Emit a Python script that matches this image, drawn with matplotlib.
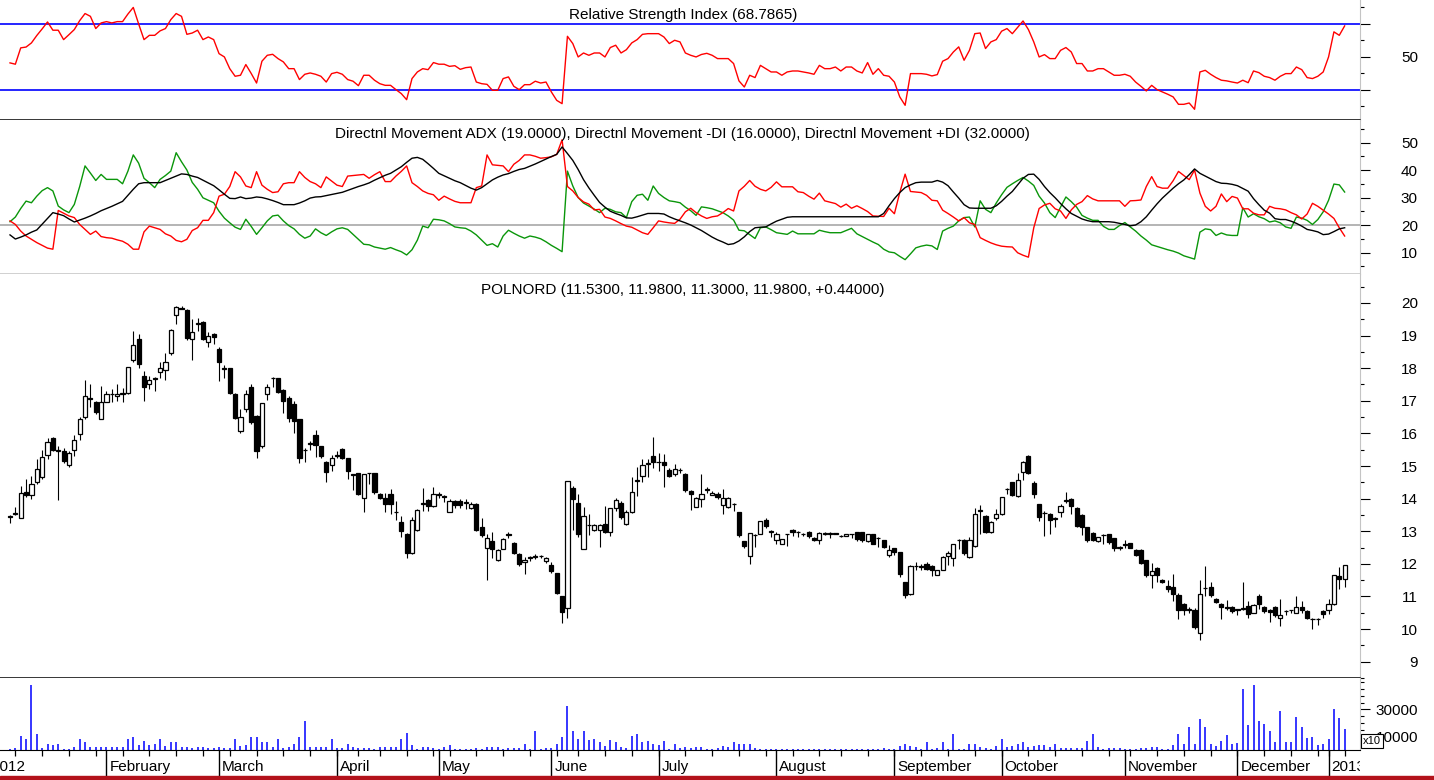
import matplotlib
matplotlib.use("Agg")
import matplotlib.pyplot as plt
from matplotlib.patches import Rectangle
import numpy as np
import pandas as pd

plt.rcParams['font.family'] = ['Liberation Sans', 'DejaVu Sans']

# trading days on the chart (Warsaw exchange, 5 Jan 2012 - 7 Jan 2013)
holidays = ['2012-01-06', '2012-04-06', '2012-04-09', '2012-05-01', '2012-05-03',
            '2012-06-07', '2012-08-15', '2012-11-01', '2012-12-24', '2012-12-25',
            '2012-12-26', '2012-12-31', '2013-01-01']
dates = pd.bdate_range('2012-01-05', '2013-01-07', freq='C', holidays=holidays)

# POLNORD daily OHLC
opens = [
    13.48, 13.52, 13.42, 14.20, 14.10, 14.50, 14.65, 15.35, 15.85, 15.50,
    15.45, 15.02, 15.48, 15.98, 16.50, 17.10, 16.95, 16.45, 16.97, 17.20,
    17.15, 17.22, 17.25, 18.25, 18.90, 17.77, 17.50, 17.70, 17.88, 17.95,
    18.45, 19.62, 19.85, 19.77, 18.90, 19.35, 19.40, 18.80, 19.05, 18.60,
    18.00, 18.00, 17.22, 16.08, 16.76, 17.42, 16.53, 15.60, 17.22, 17.70,
    17.70, 17.32, 17.10, 16.90, 16.44, 15.48, 15.70, 15.95, 15.60, 15.12,
    15.02, 15.35, 15.52, 15.25, 14.75, 14.78, 14.02, 14.78, 14.78, 14.15,
    14.03, 14.13, 13.58, 13.28, 12.93, 12.32, 13.03, 13.85, 13.95, 13.78,
    14.12, 14.07, 13.60, 13.93, 13.92, 13.88, 13.70, 13.85, 13.13, 12.48,
    12.70, 12.12, 12.47, 12.90, 12.65, 12.30, 12.05, 12.20, 12.22, 12.25,
    12.10, 11.98, 11.72, 11.00, 10.65, 14.33, 13.88, 12.45, 13.18, 13.03,
    13.03, 13.22, 12.98, 13.70, 13.88, 13.23, 13.58, 14.55, 14.70, 15.07,
    15.30, 15.13, 15.13, 14.87, 14.75, 14.87, 14.75, 14.23, 13.75, 14.00,
    14.28, 14.12, 14.15, 13.80, 13.73, 13.83, 13.60, 12.70, 12.25, 12.88,
    12.92, 13.35, 12.98, 12.72, 12.62, 12.90, 13.05, 12.97, 12.92, 12.98,
    12.80, 12.73, 12.93, 12.95, 12.93, 12.85, 12.85, 12.92, 12.97, 12.97,
    12.70, 12.90, 12.78, 12.72, 12.27, 12.48, 12.35, 11.43, 11.07, 11.92,
    11.92, 12.00, 11.93, 11.66, 11.82, 12.25, 12.17, 12.72, 12.72, 12.20,
    12.55, 13.63, 13.48, 12.98, 13.41, 13.53, 14.28, 14.50, 14.07, 14.82,
    15.32, 14.47, 13.83, 13.55, 13.53, 13.38, 13.58, 13.94, 14.00, 13.72,
    13.50, 13.12, 12.95, 12.70, 12.88, 12.90, 12.78, 12.50, 12.60, 12.63,
    12.43, 12.42, 12.12, 11.65, 11.88, 11.52, 11.33, 11.30, 11.06, 10.77,
    10.60, 10.60, 9.88, 11.27, 11.28, 10.91, 10.78, 10.67, 10.68, 10.60,
    10.62, 10.72, 10.50, 11.02, 10.68, 10.60, 10.68, 10.33, 10.55, 10.58,
    10.50, 10.68, 10.56, 10.31, 10.31, 10.56, 10.58, 10.77, 11.62, 11.53,
]
highs = [
    13.50, 13.75, 14.40, 14.60, 14.70, 15.20, 15.50, 15.85, 15.90, 15.60,
    15.55, 15.45, 15.95, 16.50, 17.65, 17.50, 17.00, 17.45, 17.30, 17.35,
    17.50, 17.40, 18.05, 19.15, 19.05, 17.90, 17.75, 17.72, 18.20, 18.45,
    19.20, 19.90, 19.92, 19.80, 19.50, 19.55, 19.45, 19.10, 19.08, 18.65,
    18.10, 18.00, 17.25, 16.75, 17.33, 17.50, 16.55, 16.93, 17.50, 17.72,
    17.70, 17.35, 17.15, 17.00, 16.45, 15.55, 15.76, 16.10, 15.62, 15.15,
    15.35, 15.45, 15.55, 15.25, 14.75, 14.78, 14.76, 14.80, 14.78, 14.16,
    14.18, 14.30, 13.93, 13.48, 12.95, 13.43, 13.67, 14.33, 14.00, 14.35,
    14.20, 14.10, 14.00, 13.97, 13.98, 14.00, 13.90, 13.88, 13.40, 12.93,
    12.98, 12.45, 12.78, 12.98, 12.68, 12.32, 12.20, 12.25, 12.30, 12.28,
    12.22, 12.05, 11.72, 11.02, 14.55, 14.40, 14.13, 13.75, 13.52, 13.22,
    13.22, 13.78, 13.72, 14.03, 13.92, 13.65, 14.65, 14.98, 15.22, 15.20,
    15.90, 15.40, 15.38, 14.95, 15.05, 14.95, 14.78, 14.25, 14.06, 14.75,
    14.37, 14.22, 14.20, 14.28, 14.05, 13.88, 13.60, 12.70, 12.95, 12.90,
    13.32, 13.40, 13.05, 12.98, 12.75, 12.92, 13.07, 13.00, 12.95, 13.00,
    12.82, 12.98, 12.98, 12.97, 12.95, 12.87, 12.92, 12.92, 12.98, 12.98,
    12.92, 12.92, 12.82, 12.74, 12.57, 12.50, 12.37, 11.45, 11.95, 12.05,
    12.00, 12.05, 11.95, 11.80, 12.25, 12.38, 12.62, 12.75, 12.75, 12.83,
    13.72, 13.80, 13.50, 13.30, 13.68, 14.05, 14.32, 14.52, 14.80, 15.15,
    15.35, 14.53, 13.85, 13.63, 13.55, 13.43, 13.85, 14.20, 14.03, 13.73,
    13.52, 13.13, 12.97, 12.83, 12.90, 12.92, 12.80, 12.55, 12.72, 12.65,
    12.45, 12.44, 12.13, 12.03, 11.90, 11.55, 11.50, 11.70, 11.10, 10.80,
    10.67, 10.65, 11.50, 11.92, 11.45, 10.95, 10.80, 10.90, 10.72, 10.63,
    11.45, 10.85, 10.78, 11.07, 10.72, 10.63, 10.70, 10.93, 10.60, 10.60,
    11.02, 10.86, 10.58, 10.33, 10.33, 10.58, 10.92, 11.67, 11.90, 11.98,
]
lows = [
    13.25, 13.50, 13.40, 14.05, 14.00, 14.45, 14.60, 15.20, 15.45, 13.95,
    15.10, 14.98, 15.30, 15.80, 16.45, 16.80, 16.60, 16.45, 16.95, 16.95,
    17.00, 16.95, 17.20, 18.20, 18.00, 17.00, 17.35, 17.30, 17.70, 17.65,
    18.40, 19.35, 19.80, 18.85, 18.25, 19.15, 18.85, 18.65, 18.75, 17.60,
    17.70, 17.20, 16.45, 16.00, 16.66, 16.30, 15.25, 15.55, 17.02, 17.42,
    17.25, 16.63, 16.36, 16.00, 15.10, 15.12, 15.50, 15.27, 15.25, 14.50,
    14.85, 15.25, 15.20, 14.60, 14.25, 14.12, 13.60, 14.45, 14.15, 13.98,
    13.58, 13.53, 13.33, 12.83, 12.17, 12.30, 13.00, 13.63, 13.63, 13.73,
    14.03, 13.90, 13.58, 13.70, 13.72, 13.68, 13.68, 13.00, 12.83, 11.52,
    12.17, 12.10, 12.45, 12.78, 12.30, 11.92, 11.70, 12.10, 12.15, 12.18,
    12.03, 11.72, 11.08, 10.20, 10.35, 13.03, 12.83, 12.45, 12.88, 13.00,
    12.52, 12.95, 12.85, 13.63, 13.38, 13.20, 13.55, 14.08, 14.50, 14.65,
    14.95, 14.85, 14.37, 14.65, 14.70, 14.80, 14.20, 13.65, 13.73, 13.73,
    14.18, 14.10, 14.00, 13.53, 13.70, 13.63, 12.82, 12.50, 12.00, 12.52,
    12.90, 13.10, 12.83, 12.62, 12.60, 12.55, 12.85, 12.82, 12.85, 12.80,
    12.70, 12.62, 12.88, 12.78, 12.90, 12.83, 12.85, 12.78, 12.70, 12.68,
    12.68, 12.60, 12.53, 12.48, 12.20, 12.28, 11.60, 10.95, 11.05, 11.82,
    11.80, 11.80, 11.62, 11.65, 11.80, 11.97, 11.92, 12.47, 12.28, 12.18,
    12.52, 12.93, 12.95, 12.96, 13.33, 13.50, 14.15, 14.08, 14.05, 14.58,
    14.75, 14.02, 13.30, 12.85, 12.90, 13.13, 13.45, 13.88, 13.53, 13.12,
    12.87, 12.68, 12.70, 12.68, 12.62, 12.62, 12.40, 12.43, 12.50, 12.48,
    12.25, 12.00, 11.60, 11.27, 11.43, 11.42, 11.15, 10.85, 10.30, 10.42,
    10.50, 10.00, 9.68, 11.00, 10.98, 10.80, 10.30, 10.58, 10.50, 10.43,
    10.58, 10.35, 10.48, 10.62, 10.50, 10.22, 10.38, 10.10, 10.42, 10.50,
    10.48, 10.50, 10.30, 10.00, 10.12, 10.35, 10.45, 10.75, 11.22, 11.30,
]
closes = [
    13.45, 13.55, 14.16, 14.10, 14.45, 14.90, 15.27, 15.73, 15.48, 15.45,
    15.15, 15.40, 15.80, 16.45, 17.15, 17.05, 16.65, 16.97, 17.20, 17.22,
    17.22, 17.25, 18.03, 18.70, 18.13, 17.42, 17.65, 17.68, 18.00, 18.20,
    19.16, 19.87, 19.82, 18.94, 19.10, 19.38, 18.90, 19.00, 18.95, 18.18,
    17.98, 17.25, 16.47, 16.50, 17.22, 16.36, 15.45, 16.93, 17.42, 17.70,
    17.27, 17.00, 16.46, 16.38, 15.25, 15.50, 15.68, 15.65, 15.30, 14.82,
    15.25, 15.32, 15.25, 14.85, 14.73, 14.15, 14.74, 14.78, 14.20, 14.03,
    13.85, 13.83, 13.58, 13.00, 12.34, 13.33, 13.65, 13.87, 13.78, 14.13,
    14.15, 14.05, 13.93, 13.80, 13.80, 13.90, 13.85, 13.03, 12.88, 12.78,
    12.45, 12.42, 12.75, 12.88, 12.32, 12.00, 12.12, 12.18, 12.25, 12.24,
    12.17, 11.77, 11.10, 10.52, 14.55, 13.98, 12.90, 13.48, 13.20, 13.18,
    13.20, 12.98, 13.70, 13.95, 13.43, 13.58, 14.20, 14.55, 15.02, 15.08,
    15.13, 15.12, 15.03, 14.70, 14.90, 14.88, 14.27, 14.14, 14.03, 14.15,
    14.25, 14.18, 14.05, 14.03, 14.03, 13.82, 12.87, 12.55, 12.95, 12.88,
    13.30, 13.15, 12.98, 12.90, 12.75, 12.90, 12.98, 12.98, 12.90, 12.85,
    12.73, 12.95, 12.93, 12.93, 12.92, 12.84, 12.90, 12.90, 12.77, 12.73,
    12.90, 12.62, 12.78, 12.52, 12.43, 12.35, 11.68, 11.03, 11.92, 11.93,
    11.90, 11.85, 11.82, 11.80, 12.22, 12.32, 12.62, 12.72, 12.32, 12.72,
    13.53, 13.63, 12.98, 13.28, 13.53, 14.04, 14.28, 14.10, 14.58, 15.12,
    14.80, 14.14, 13.43, 13.55, 13.35, 13.38, 13.78, 13.94, 13.78, 13.15,
    13.12, 12.72, 12.72, 12.82, 12.88, 12.66, 12.50, 12.50, 12.58, 12.50,
    12.28, 12.02, 11.67, 11.78, 11.65, 11.45, 11.23, 11.08, 10.60, 10.60,
    10.60, 10.06, 11.08, 11.26, 11.03, 10.84, 10.68, 10.66, 10.56, 10.59,
    10.62, 10.46, 10.75, 10.77, 10.56, 10.53, 10.42, 10.43, 10.55, 10.57,
    10.68, 10.58, 10.33, 10.30, 10.30, 10.45, 10.77, 11.67, 11.54, 11.98,
]
# volume as shown on the axis (x10)
volume = [
    1000, 1700, 10700, 7800, 48000, 11500, 1700, 4600, 3700, 4600,
    1000, 1000, 2200, 7800, 5900, 2400, 2400, 2400, 2200, 2000,
    2000, 2000, 7800, 9500, 3700, 6600, 3700, 4100, 8500, 2900,
    5900, 5900, 2400, 2400, 1500, 2400, 2000, 1700, 1500, 2400,
    1700, 1700, 7800, 2900, 3700, 9500, 9500, 5900, 5900, 2400,
    8500, 1700, 2400, 4600, 9500, 21700, 2400, 2400, 2400, 2400,
    8500, 1700, 1700, 4600, 2400, 1700, 1700, 1500, 1000, 2200,
    2000, 2000, 2000, 7800, 12700, 3400, 1000, 2400, 2000, 1500,
    1000, 2400, 3400, 1000, 1000, 1000, 1000, 1700, 1000, 2400,
    2400, 2000, 1000, 1500, 1500, 1700, 4600, 1000, 13900, 1000,
    1700, 1700, 4600, 9500, 32700, 13900, 7800, 13900, 7300, 7800,
    5900, 2900, 7100, 5900, 2400, 1700, 10700, 11500, 5900, 6600,
    4600, 3400, 6600, 500, 4600, 1700, 2200, 1700, 2200, 2400,
    500, 500, 1700, 2900, 2200, 5900, 4600, 4600, 4600, 1700,
    1000, 1000, 1000, 1000, 1000, 1000, 1000, 1000, 1000, 1000,
    1000, 1000, 1000, 1000, 1000, 1000, 1000, 1000, 1000, 500,
    1000, 1000, 1000, 1700, 1000, 1000, 2900, 4600, 2900, 2200,
    1000, 5900, 1000, 1700, 5900, 1000, 11500, 1000, 1000, 4600,
    4600, 2200, 1700, 1000, 2900, 7800, 2200, 2900, 4600, 5900,
    2200, 2900, 3400, 3700, 2200, 4600, 1700, 1700, 1700, 1700,
    1700, 6600, 11500, 2200, 1000, 1700, 1700, 1700, 1000, 1000,
    1000, 1700, 1700, 2200, 2200, 1000, 1000, 3400, 11500, 4600,
    17300, 4600, 23200, 17300, 4400, 3200, 6300, 11200, 4400, 5100,
    45400, 18500, 48500, 21700, 19300, 14400, 5600, 28800, 5600, 5600,
    24600, 17300, 8800, 9500, 3400, 4400, 8300, 30200, 23400, 15400,
]
rsi = [
    46.4, 45.6, 55.5, 56.0, 58.5, 63.0, 67.0, 71.2, 66.2, 66.2,
    60.5, 63.5, 66.6, 72.0, 76.3, 74.6, 67.2, 70.6, 71.4, 70.6,
    71.4, 71.4, 76.0, 80.0, 70.0, 60.5, 63.1, 63.1, 65.8, 67.2,
    72.6, 76.3, 74.6, 63.7, 64.5, 66.2, 60.5, 62.1, 60.5, 52.0,
    50.0, 42.9, 38.3, 38.9, 45.4, 40.0, 34.2, 47.4, 51.0, 51.6,
    49.0, 47.0, 42.9, 42.9, 36.3, 39.5, 40.3, 39.5, 38.3, 34.8,
    39.9, 40.7, 39.5, 36.3, 35.3, 32.6, 38.9, 38.9, 35.9, 33.8,
    32.8, 32.8, 30.2, 27.8, 24.1, 36.9, 40.9, 42.9, 42.3, 46.6,
    45.6, 45.6, 44.3, 44.7, 42.5, 43.5, 43.9, 34.8, 33.8, 33.4,
    29.8, 29.8, 36.9, 37.9, 32.2, 30.2, 33.2, 33.2, 35.3, 34.2,
    34.8, 28.8, 23.7, 21.7, 62.5, 58.1, 50.0, 52.4, 51.0, 52.4,
    52.4, 50.0, 55.7, 57.1, 52.4, 54.4, 58.5, 60.5, 63.7, 64.1,
    64.1, 64.1, 62.1, 58.1, 60.1, 59.1, 52.4, 51.0, 50.0, 51.5,
    52.2, 51.0, 49.0, 49.0, 49.0, 46.0, 35.5, 31.8, 38.9, 37.5,
    44.9, 42.9, 40.9, 40.9, 38.9, 40.9, 41.5, 41.5, 40.9, 40.3,
    39.5, 44.9, 42.9, 42.9, 43.9, 41.5, 43.9, 43.9, 41.5, 40.3,
    46.6, 39.5, 42.9, 38.9, 38.3, 34.8, 25.8, 20.7, 39.9, 39.9,
    39.9, 39.5, 38.5, 39.3, 47.4, 49.0, 53.0, 56.1, 48.0, 54.0,
    64.1, 64.5, 55.1, 59.1, 60.5, 65.6, 67.2, 64.1, 68.0, 71.8,
    66.6, 59.1, 50.0, 51.4, 49.0, 49.0, 54.0, 55.7, 53.0, 46.0,
    46.0, 41.5, 41.5, 42.9, 42.9, 40.9, 38.9, 38.9, 39.5, 38.3,
    34.8, 32.2, 29.4, 32.8, 30.2, 28.8, 27.4, 25.8, 21.3, 21.3,
    22.1, 18.3, 40.9, 41.9, 39.5, 37.5, 35.9, 35.5, 34.8, 34.2,
    35.9, 34.4, 41.5, 40.5, 38.3, 37.5, 35.9, 38.3, 39.9, 39.9,
    43.9, 42.3, 37.5, 36.9, 38.3, 40.9, 50.0, 65.2, 63.1, 68.8,
]
adx = [
    16.4, 14.9, 15.6, 16.4, 17.4, 18.2, 20.3, 22.4, 24.5, 24.0,
    23.4, 22.2, 21.1, 21.8, 22.5, 23.3, 24.2, 25.2, 26.0, 26.8,
    27.7, 28.6, 30.8, 33.0, 35.0, 35.4, 35.4, 35.4, 35.4, 36.2,
    37.0, 37.8, 38.6, 38.4, 37.8, 37.3, 36.3, 35.3, 34.3, 32.8,
    31.2, 29.7, 29.6, 30.2, 29.6, 29.8, 30.2, 30.0, 29.5, 28.9,
    28.2, 27.4, 27.4, 27.4, 28.0, 28.8, 29.8, 30.2, 30.3, 30.7,
    31.1, 31.5, 31.9, 32.6, 33.3, 34.0, 34.6, 35.3, 36.3, 37.2,
    38.1, 38.8, 40.0, 41.2, 42.8, 44.3, 44.6, 43.9, 42.3, 40.6,
    38.8, 37.9, 37.0, 36.1, 35.4, 34.4, 33.4, 32.7, 33.6, 35.0,
    36.4, 37.4, 38.2, 38.7, 39.5, 40.2, 40.6, 41.4, 42.2, 43.1,
    44.0, 44.9, 45.7, 48.4, 46.0, 43.5, 40.2, 36.5, 33.5, 30.8,
    28.2, 26.5, 25.0, 24.2, 23.5, 22.6, 22.5, 23.0, 23.6, 24.2,
    24.2, 24.2, 24.0, 23.0, 22.2, 21.5, 20.8, 20.0, 19.0, 18.0,
    16.8, 15.6, 14.6, 13.8, 12.9, 13.2, 14.2, 15.7, 17.6, 19.0,
    19.2, 19.3, 20.4, 21.4, 22.1, 22.8, 23.0, 23.0, 23.0, 23.0,
    23.0, 23.0, 23.0, 23.0, 23.0, 23.0, 23.0, 23.0, 23.0, 23.0,
    23.0, 23.0, 23.0, 24.2, 27.0, 29.6, 31.8, 33.6, 34.6, 35.4,
    35.6, 35.6, 35.6, 36.2, 35.6, 34.3, 32.0, 29.8, 27.4, 26.2,
    26.1, 26.1, 26.1, 26.1, 27.0, 28.6, 30.5, 32.2, 34.6, 37.0,
    38.4, 38.5, 36.6, 34.0, 31.8, 29.9, 27.8, 25.9, 24.2, 23.2,
    22.2, 21.6, 21.2, 21.2, 21.2, 21.2, 21.0, 20.6, 20.2, 19.7,
    20.0, 21.2, 23.0, 25.4, 27.7, 29.8, 31.6, 33.4, 35.0, 36.4,
    38.3, 40.4, 38.8, 37.8, 36.8, 35.8, 35.2, 35.1, 34.8, 34.3,
    33.3, 32.3, 29.6, 27.4, 25.4, 24.3, 22.3, 22.0, 22.0, 21.4,
    20.6, 19.6, 18.4, 18.0, 17.5, 16.5, 16.7, 17.6, 18.6, 19.0,
]
plus_di = [
    21.2, 22.9, 26.0, 28.7, 28.1, 30.5, 32.5, 33.6, 32.4, 26.9,
    25.5, 24.5, 27.5, 34.0, 41.5, 38.9, 36.2, 38.4, 36.6, 36.6,
    36.6, 35.0, 39.6, 45.5, 42.5, 37.0, 35.4, 33.6, 36.6, 38.0,
    39.6, 46.3, 43.0, 40.0, 35.5, 33.0, 29.9, 29.0, 28.1, 25.0,
    22.5, 20.8, 19.2, 18.4, 22.1, 19.5, 16.6, 19.0, 21.5, 23.3,
    23.6, 21.5, 19.8, 18.6, 16.6, 15.2, 16.0, 18.6, 17.2, 16.2,
    17.5, 18.6, 19.0, 18.4, 16.6, 14.8, 13.0, 12.8, 12.0, 11.6,
    11.2, 11.8, 11.0, 10.3, 9.1, 11.0, 14.5, 19.6, 19.0, 22.1,
    21.9, 21.5, 20.5, 19.3, 19.0, 18.8, 17.8, 16.4, 14.5, 12.6,
    13.2, 12.0, 16.0, 18.1, 17.0, 16.0, 15.2, 16.0, 15.6, 15.0,
    13.9, 12.6, 11.5, 10.3, 39.6, 34.2, 30.0, 28.0, 26.9, 25.8,
    24.5, 26.1, 25.7, 24.8, 24.5, 22.7, 28.5, 30.8, 31.2, 29.0,
    34.2, 31.5, 30.0, 28.8, 28.5, 28.1, 26.5, 25.2, 23.5, 26.6,
    26.3, 25.9, 25.2, 24.5, 23.3, 21.8, 18.1, 17.9, 16.5, 15.1,
    19.0, 19.3, 18.3, 17.2, 16.9, 16.6, 17.8, 16.8, 16.8, 16.8,
    16.8, 18.1, 17.6, 17.2, 17.2, 17.2, 18.0, 18.8, 16.8, 15.8,
    14.8, 13.8, 12.9, 11.2, 10.2, 9.9, 8.6, 7.4, 9.5, 11.7,
    12.3, 12.7, 12.4, 11.1, 17.8, 18.8, 19.6, 21.5, 22.7, 22.9,
    19.3, 28.8, 25.7, 24.5, 28.0, 31.0, 33.7, 35.0, 36.2, 37.3,
    36.0, 34.4, 30.5, 28.0, 24.5, 22.7, 26.5, 30.2, 28.5, 26.5,
    23.5, 22.5, 21.7, 21.7, 19.5, 18.4, 18.4, 19.8, 20.9, 19.3,
    17.8, 16.0, 14.5, 12.8, 12.2, 11.6, 11.0, 10.5, 9.8, 8.8,
    8.2, 7.6, 17.4, 18.6, 18.3, 16.2, 17.1, 16.4, 16.2, 16.2,
    26.3, 22.9, 24.1, 23.0, 22.3, 21.1, 21.5, 20.8, 19.3, 18.8,
    22.9, 22.5, 21.7, 20.2, 22.0, 24.8, 29.0, 34.9, 34.6, 32.0,
]
minus_di = [
    21.5, 20.2, 17.8, 16.0, 14.8, 13.6, 12.6, 11.6, 11.2, 25.3,
    24.3, 23.3, 22.7, 20.2, 18.4, 16.6, 17.8, 15.8, 15.4, 15.2,
    14.6, 14.1, 13.0, 11.2, 11.2, 17.5, 19.6, 19.0, 18.4, 16.8,
    16.0, 14.4, 13.9, 14.8, 18.0, 19.0, 21.7, 21.7, 24.5, 30.5,
    31.2, 34.0, 39.4, 37.5, 34.2, 33.6, 39.4, 34.5, 33.0, 31.8,
    32.1, 35.0, 35.4, 35.4, 39.4, 37.3, 35.8, 35.0, 33.6, 37.5,
    36.0, 34.5, 34.0, 37.8, 38.0, 38.2, 38.4, 37.0, 38.3, 39.4,
    35.8, 35.8, 37.8, 39.5, 41.5, 35.4, 34.0, 32.4, 31.5, 31.0,
    29.0, 30.5, 29.5, 28.6, 28.1, 28.1, 28.1, 33.6, 34.2, 45.5,
    41.9, 41.7, 41.5, 39.4, 42.1, 43.5, 45.5, 45.5, 45.0, 44.3,
    44.5, 44.8, 45.7, 51.0, 34.0, 32.4, 30.0, 28.4, 27.6, 25.5,
    25.7, 22.9, 22.4, 21.5, 20.5, 19.6, 19.2, 18.2, 17.2, 16.6,
    19.0, 21.5, 21.1, 20.8, 20.6, 22.1, 24.8, 26.1, 24.5, 23.3,
    22.4, 23.0, 23.3, 24.5, 26.0, 25.1, 32.4, 34.1, 36.2, 34.1,
    33.0, 32.4, 33.7, 35.7, 33.9, 33.9, 33.9, 32.1, 31.8, 30.5,
    29.4, 31.6, 28.8, 28.3, 27.8, 26.5, 27.6, 26.1, 27.0, 26.0,
    24.9, 23.3, 23.2, 23.1, 26.1, 24.1, 31.8, 38.5, 32.2, 32.0,
    31.8, 30.8, 29.0, 28.8, 25.4, 24.2, 22.9, 21.5, 22.7, 20.8,
    20.2, 15.4, 14.4, 13.5, 12.8, 12.3, 12.1, 12.0, 9.9, 9.0,
    8.3, 19.0, 26.0, 27.3, 27.9, 25.9, 25.1, 22.4, 25.5, 27.5,
    28.5, 30.7, 29.5, 28.8, 28.8, 28.8, 28.8, 28.8, 26.8, 28.8,
    28.9, 29.1, 34.0, 37.6, 34.0, 33.4, 33.4, 36.1, 39.5, 38.0,
    36.5, 40.0, 31.6, 26.8, 25.1, 26.8, 31.3, 28.5, 30.4, 29.8,
    25.9, 25.9, 24.3, 23.7, 23.7, 26.8, 26.1, 25.9, 25.5, 24.5,
    23.7, 22.2, 24.0, 27.9, 26.8, 25.4, 24.0, 22.4, 19.0, 16.0,
]

# axis ticks
rsi_ticks = [30, 50, 70]
rsi_tick_labels = ['', '50', '']
rsi_minor = [20, 40, 60, 80]
dmi_ticks = [10, 20, 30, 40, 50]
dmi_minor = [5, 15, 25, 35, 45, 55]
price_ticks = list(range(9, 21))
price_minor = [p + 0.5 for p in range(8, 21)]
vol_ticks = [10000, 30000]
vol_minor = [15000, 20000, 25000, 35000, 40000, 45000, 50000]

opens, highs, lows, closes = map(np.array, (opens, highs, lows, closes))
n = len(closes)
assert n == len(dates) == len(volume) == len(rsi) == len(adx)
idx = np.arange(n)

W, H = 1434, 780
PLOT_RIGHT = 1360
X_LO, X_HI = -10 / 5.36, (PLOT_RIGHT - 10) / 5.36

fig = plt.figure(figsize=(W / 100, H / 100), dpi=100)


def panel(top, bottom, ylim, bottom_color='black'):
    ax = fig.add_axes([0, 1 - bottom / H, PLOT_RIGHT / W, (bottom - top) / H])
    ax.set_xlim(X_LO, X_HI)
    ax.set_ylim(*ylim)
    ax.set_xticks([])
    ax.spines['top'].set_visible(False)
    ax.spines['left'].set_visible(False)
    ax.spines['right'].set_color('#c4c4c4')
    ax.spines['bottom'].set_color(bottom_color)
    ax.spines['bottom'].set_linewidth(1.1)
    ax.yaxis.tick_right()
    ax.tick_params(axis='y', which='major', length=7.2, width=0.8, pad=34.5,
                   labelsize=11, colors='black')
    ax.tick_params(axis='y', which='minor', length=2.9, width=0.8)
    return ax


def right_align(ax):
    for t in ax.yaxis.get_major_ticks():
        t.label2.set_horizontalalignment('right')


def title(ax, y, txt):
    ax.text(0.502, y, txt, transform=ax.transAxes, ha='center', va='center',
            fontsize=11, color='black', zorder=6)


# 1. RSI
ax_rsi = panel(0, 120, (11.8, 84.5))
ax_rsi.axhline(70, color='#0000ff', lw=1.2)
ax_rsi.axhline(30, color='#0000ff', lw=1.2)
ax_rsi.plot(idx, rsi, color='#ff0000', lw=1.0)
ax_rsi.set_yticks(rsi_ticks, rsi_tick_labels)
ax_rsi.set_yticks(rsi_minor, minor=True)
right_align(ax_rsi)
title(ax_rsi, 0.875, 'Relative Strength Index (68.7865)')

# 2. Directional movement
ax_dmi = panel(120, 274, (2.18, 58.2), bottom_color='#c4c4c4')
ax_dmi.axhline(20, color='#a0a0a0', lw=1.1)
ax_dmi.plot(idx, plus_di, color='#0a960a', lw=1.0)
ax_dmi.plot(idx, minus_di, color='#ff0000', lw=1.0)
ax_dmi.plot(idx, adx, color='black', lw=1.0)
ax_dmi.set_yticks(dmi_ticks, [str(v) for v in dmi_ticks])
ax_dmi.set_yticks(dmi_minor, minor=True)
right_align(ax_dmi)
title(ax_dmi, 0.908, 'Directnl Movement ADX (19.0000), Directnl Movement -DI (16.0000), '
                     'Directnl Movement +DI (32.0000)')

# 3. Candles
ax_px = panel(274, 678, (8.635, 20.887))
up = closes >= opens
body_lo = np.minimum(opens, closes)
body_h = np.maximum(np.abs(closes - opens), 0.012)
ax_px.vlines(idx, lows, highs, color='black', lw=0.8, zorder=2)
ax_px.bar(idx, body_h, bottom=body_lo, width=0.78,
          color=np.where(up, 'white', 'black'), edgecolor='black',
          linewidth=0.9, zorder=3)
ax_px.set_yticks(price_ticks, [str(v) for v in price_ticks])
ax_px.set_yticks(price_minor, minor=True)
right_align(ax_px)
title(ax_px, 0.960, 'POLNORD (11.5300, 11.9800, 11.3000, 11.9800, +0.44000)')

# 4. Volume
ax_vol = panel(678, 750, (0, 53333))
ax_vol.spines['bottom'].set_linewidth(0.8)
ax_vol.vlines(idx, 0, volume, color='#0000ff', lw=1.1)
ax_vol.set_yticks(vol_ticks, [str(v) for v in vol_ticks])
ax_vol.set_yticks(vol_minor, minor=True)
right_align(ax_vol)

# 5. date strip
ax_date = fig.add_axes([0, 4 / H, PLOT_RIGHT / W, 26 / H])
ax_date.set_xlim(X_LO, X_HI)
ax_date.set_ylim(0, 1)
ax_date.axis('off')

week_first = [i for i in range(1, n) if dates[i].weekday() < dates[i - 1].weekday()]
month_first = [i for i in range(1, n) if dates[i].month != dates[i - 1].month]
ax_date.vlines(week_first, 1 - 6 / 26, 1, color='black', lw=0.9)
ax_date.vlines(month_first, 0, 1, color='black', lw=1.0)

labels = [(-4.0, '2012')]  # Jan 2012 starts before the first bar
for i in month_first:
    d = dates[i]
    labels.append((i, str(d.year) if d.month == 1 else d.strftime('%B')))
for pos, name in labels:
    ax_date.text(pos + 0.55, 0.36, name, fontsize=11, ha='left', va='center',
                 clip_on=True)

# volume multiplier box and bottom bar
fig.text(1372 / W, 1 - 741 / H, 'x10', fontsize=8, ha='center', va='center',
         bbox=dict(boxstyle='square,pad=0.15', fc='white', ec='black', lw=0.8),
         zorder=10)
fig.add_artist(Rectangle((0, 0), 1, 4 / H, transform=fig.transFigure,
                         color='#b3121b'))

fig.savefig('out.png', dpi=100)
print("saved out.png")
